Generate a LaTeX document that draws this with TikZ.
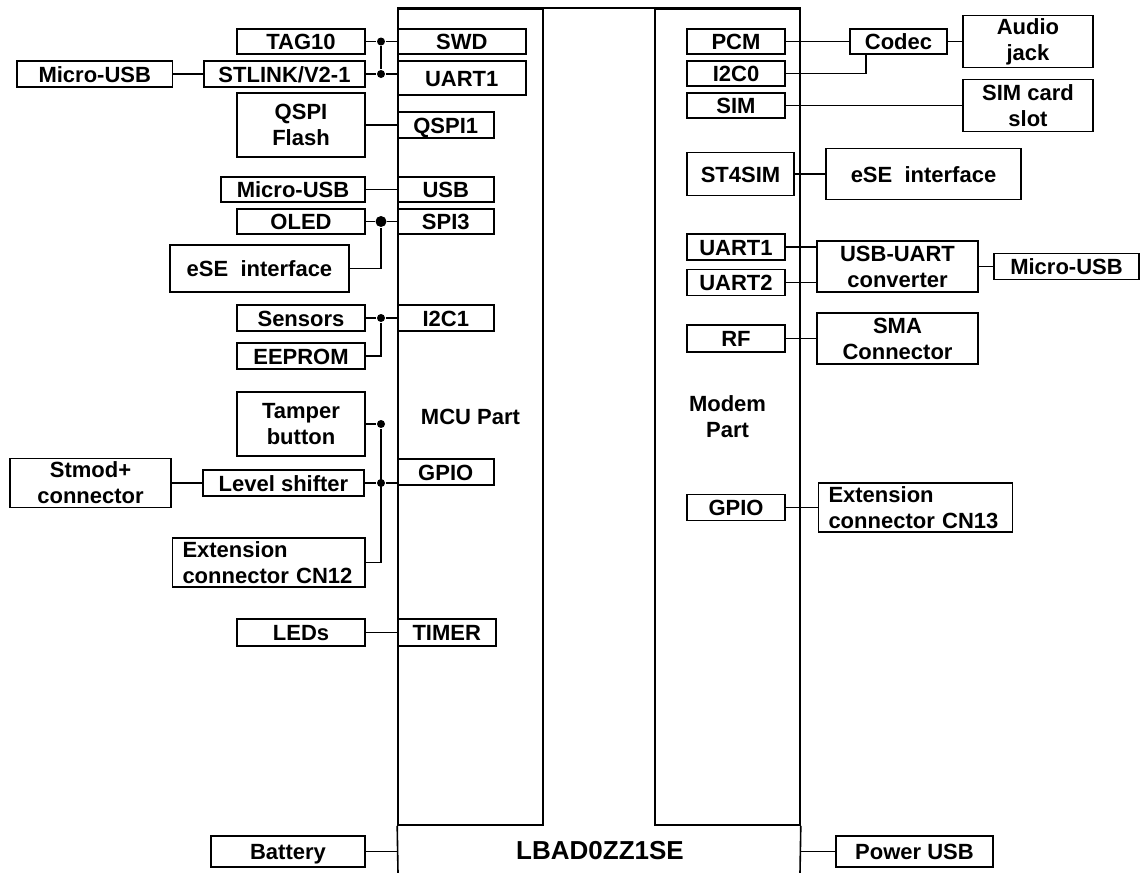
\documentclass[tikz,border=0pt]{standalone}
\usepackage{fontspec}
\setmainfont{Liberation Sans}
\begin{document}
\begin{tikzpicture}[x=1pt,y=-1pt, line width=1.6pt,
  box/.style={draw, inner sep=0pt, align=center, font=\fontsize{22}{26}\selectfont\bfseries},
  sline/.style={text height=16pt, text depth=0pt},
  lbox/.style={box, align=left, inner xsep=10pt},
  part/.style={draw, inner sep=0pt, align=center, font=\fontsize{22}{26}\selectfont\bfseries},
  jdot/.style={circle, fill, draw=none, inner sep=0pt, minimum size=8pt},
  bigjdot/.style={jdot, minimum size=11pt}]
\useasboundingbox (0,0) rectangle (1141,873);
\newcommand\bx[6]{\node[box, sline, minimum width=#4pt, minimum height=#5pt] (#1) at (#2,#3) {#6};}
\newcommand\bxx[6]{\node[box, minimum width=#4pt, minimum height=#5pt] (#1) at (#2,#3) {#6};}

% chip columns
\node[part, minimum width=145pt, minimum height=816pt] (mcu) at (470.5,417) {MCU Part};
\node[part, minimum width=145pt, minimum height=816pt] (modem) at (727.5,417) {Modem\\Part};
\coordinate (chipL) at (398,873);
\coordinate (chipR) at (800,873);
\draw (mcu.north west) -- (modem.north east);
\draw (mcu.south west) -- (chipL);
\draw (modem.south east) -- (chipR);
\node[font=\fontsize{26}{30}\selectfont\bfseries, text height=19pt, text depth=0pt] (chip) at (600,850) {LBAD0ZZ1SE};

% left side
\bx{tag}{301}{41.5}{128}{25}{TAG10}
\bx{swd}{461.75}{41.5}{128.5}{25}{SWD}
\bx{musbA}{94.75}{74}{155.5}{26}{Micro-USB}
\bx{stlink}{284.5}{74}{161}{26}{STLINK/V2-1}
\bx{uartL}{461.75}{78}{128.5}{34}{UART1}
\bxx{qspif}{301}{125}{128}{64}{QSPI\\Flash}
\bx{qspi}{445.75}{125}{96.5}{26}{QSPI1}
\bx{musbB}{293}{189.5}{144}{25}{Micro-USB}
\bx{usb}{445.75}{189.5}{96.5}{25}{USB}
\bx{oled}{301}{221.5}{128}{25}{OLED}
\bx{spi}{445.75}{221.5}{96.5}{25}{SPI3}
\bx{eseL}{259.5}{268.5}{179}{47}{eSE\ \ interface}
\bx{sens}{301}{318}{128}{26}{Sensors}
\bx{iic}{445.75}{318}{96.5}{26}{I2C1}
\bx{eep}{301}{356}{128}{26}{EEPROM}
\bxx{tamper}{301}{424}{128}{64}{Tamper\\button}
\bxx{stmod}{90.5}{483}{161}{49}{Stmod+\\connector}
\bx{lvl}{283.5}{483}{161}{26}{Level shifter}
\bx{gpioL}{445.75}{472}{96.5}{26}{GPIO}
\node[lbox, text width=172.5pt, minimum height=49pt] (extL) at (268.75,562.5) {Extension\\connector CN12};
\bx{leds}{301}{632.5}{128}{27}{LEDs}
\bx{timer}{446.75}{632.5}{98.5}{27}{TIMER}
\bx{bat}{288}{851.5}{154}{31}{Battery}

% right side
\bx{pcm}{736}{41.5}{98}{25}{PCM}
\bx{iicz}{736}{73.5}{98}{25}{I2C0}
\bx{sim}{736}{105.5}{98}{25}{SIM}
\bx{codec}{898.5}{41.5}{97}{25}{Codec}
\bxx{audio}{1028}{41.5}{130}{52}{Audio\\jack}
\bxx{slot}{1028}{105.5}{130}{52}{SIM card\\slot}
\bx{stsim}{740.5}{174}{107}{43}{ST4SIM}
\bx{eseR}{923.5}{174}{195}{51}{eSE\ \ interface}
\bx{uartA}{736}{247}{98}{26}{UART1}
\bx{uartB}{736}{282.5}{98}{26}{UART2}
\bxx{conv}{897.5}{266.5}{161}{51}{USB-UART\\converter}
\bx{musbC}{1066.5}{266.5}{145}{26}{Micro-USB}
\bx{rf}{736}{338.5}{98}{27}{RF}
\bxx{sma}{897.5}{338.5}{161}{51}{SMA\\Connector}
\bx{gpioR}{736}{507.5}{98}{26}{GPIO}
\node[lbox, text width=174pt, minimum height=49pt] (extR) at (915.5,507.5) {Extension\\connector CN13};
\bx{pwr}{914.5}{851.5}{157}{31}{Power USB}

% left junctions
\node[jdot] (j1) at (381,41.5) {};
\node[jdot] (j2) at (381,74) {};
\node[bigjdot] (j3) at (381,221.5) {};
\node[jdot] (j4) at (381,318) {};
\node[jdot] (j5) at (381,424) {};
\node[jdot] (j6) at (381,483) {};

% left connectors
\draw (tag.east) -- (j1) -- (swd.west);
\draw (stlink.east) -- (j2) -- (j2 -| uartL.west);
\draw (j1) -- (j2);
\draw (musbA.east) -- (stlink.west);
\draw (qspif.east) -- (qspi.west);
\draw (musbB.east) -- (usb.west);
\draw (oled.east) -- (j3) -- (spi.west);
\draw (eseL.east) -| (j3);
\draw (sens.east) -- (j4) -- (iic.west);
\draw (eep.east) -| (j4);
\draw (tamper.east) -- (j5);
\draw (lvl.east) -- (j6) -- (j6 -| gpioL.west);
\draw (extL.east) -| (j5);
\draw (stmod.east) -- (lvl.west);
\draw (leds.east) -- (timer.west);
\draw (bat.east) -- (bat.east -| mcu.west);

% right connectors
\coordinate (cx) at (866,0);
\draw (pcm.east) -- (codec.west);
\draw (iicz.east) -| (cx |- codec.south);
\draw (codec.east) -- (audio.west);
\draw (sim.east) -- (slot.west);
\draw (stsim.east) -- (eseR.west);
\draw (uartA.east) -- (uartA.east -| conv.west);
\draw (uartB.east) -- (uartB.east -| conv.west);
\draw (conv.east) -- (musbC.west);
\draw (rf.east) -- (sma.west);
\draw (gpioR.east) -- (extR.west);
\draw (pwr.west) -- (pwr.west -| modem.east);
\end{tikzpicture}
\end{document}
